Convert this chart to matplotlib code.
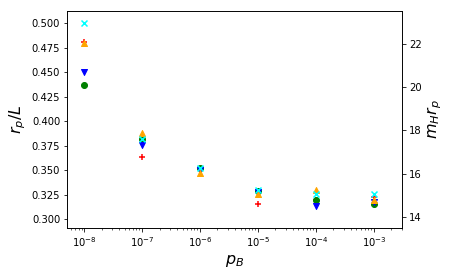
import matplotlib
matplotlib.use("Agg")
import matplotlib.pyplot as plt
import numpy as np

# data -----------------------------------------------------------
p_B = [1e-8, 1e-7, 1e-6, 1e-5, 1e-4, 1e-3]

r_green = [0.437, 0.382, 0.352, 0.329, 0.319, 0.315]
r_blue = [0.450, 0.376, 0.350, 0.328, 0.313, 0.317]
r_red = [0.481, 0.363, 0.351, 0.315, 0.319, 0.322]
r_orange = [0.480, 0.388, 0.347, 0.326, 0.330, 0.319]
r_cyan = [0.500, 0.382, 0.352, 0.330, 0.326, 0.326]

# plot -----------------------------------------------------------
fig = plt.figure(figsize=(451/72, 276/72), dpi=72)
ax = fig.add_axes([0.149, 0.174, 0.742, 0.786])

ax.scatter(p_B, r_red, color='red', marker='+')
ax.scatter(p_B, r_green, color='green', marker='o')
ax.scatter(p_B, r_blue, color='blue', marker='v')
ax.scatter(p_B, r_orange, color='orange', marker='^')
ax.scatter(p_B, r_cyan, color='cyan', marker='x')

ax.set_xscale('log')
ax.set_xlim(10**-8.293, 10**-2.517)
ax.set_ylim(0.2908, 0.5126)
ax.set_xlabel(r'$p_B$', fontsize=16)
ax.set_ylabel(r'$r_p/L$', fontsize=16)

ax2 = ax.twinx()
ax2.set_ylim(13.48, 23.53)
ax2.set_yticks([14, 16, 18, 20, 22])
ax2.set_ylabel(r'$m_H r_p$', fontsize=16)

fig.savefig('out.png', dpi=72)
